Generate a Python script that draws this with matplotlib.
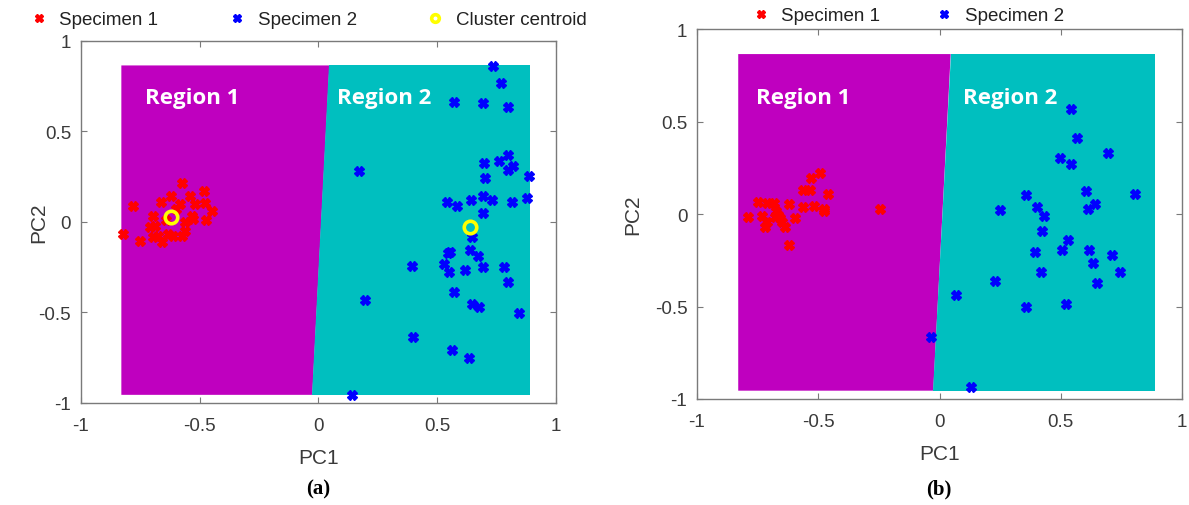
"""
PCA scatter with two classification regions, panels (a) and (b)
"""

import matplotlib
matplotlib.use('Agg')
import matplotlib.pyplot as plt

# ---- data ----
# panel (a)
a_spec1_pc1 = [-0.576, -0.483, -0.622, -0.541, -0.520, -0.663, -0.583, -0.782, -0.477,
               -0.447, -0.696, -0.534, -0.527, -0.474, -0.709, -0.688, -0.822, -0.752,
               -0.696, -0.675, -0.660, -0.632, -0.611, -0.576, -0.562, -0.600, -0.640,
               -0.560]
a_spec1_pc2 = [0.215, 0.173, 0.145, 0.145, 0.100, 0.109, 0.100, 0.090, 0.103,
               0.062, 0.035, 0.035, 0.017, 0.013, -0.030, -0.020, -0.066, -0.103,
               -0.085, -0.076, -0.112, -0.066, -0.076, -0.076, -0.048, 0.070, 0.010,
               0.000]
a_spec2_pc1 = [0.569, 0.694, 0.172, 0.697, 0.703, 0.540, 0.582, 0.642, 0.691, 0.694,
               0.648, 0.547, 0.554, 0.638, 0.673, 0.691, 0.530, 0.548, 0.617, 0.392,
               0.572, 0.196, 0.648, 0.676, 0.397, 0.563, 0.632, 0.142, 0.736, 0.770,
               0.797, 0.799, 0.759, 0.820, 0.799, 0.886, 0.729, 0.816, 0.879, 0.780,
               0.797, 0.843]
a_spec2_pc2 = [0.665, 0.656, 0.283, 0.324, 0.243, 0.112, 0.087, 0.123, 0.145, 0.050,
               -0.081, -0.173, -0.164, -0.153, -0.188, -0.247, -0.232, -0.278, -0.265, -0.241,
               -0.385, -0.431, -0.453, -0.471, -0.637, -0.707, -0.751, -0.954, 0.864, 0.770,
               0.637, 0.372, 0.335, 0.309, 0.289, 0.254, 0.121, 0.110, 0.134, -0.247,
               -0.333, -0.504]
a_centroid_pc1 = [-0.622, 0.638]
a_centroid_pc2 = [0.029, -0.026]

# panel (b)
b_spec1_pc1 = [-0.492, -0.529, -0.565, -0.534, -0.459, -0.747, -0.710, -0.682, -0.620,
               -0.562, -0.517, -0.478, -0.475, -0.247, -0.789, -0.734, -0.675, -0.664,
               -0.658, -0.678, -0.710, -0.719, -0.648, -0.639, -0.595, -0.620]
b_spec1_pc2 = [0.222, 0.197, 0.129, 0.129, 0.111, 0.063, 0.059, 0.059, 0.054,
               0.036, 0.043, 0.027, 0.015, 0.029, -0.016, -0.012, 0.015, -0.004,
               -0.022, -0.018, -0.043, -0.070, -0.043, -0.070, -0.022, -0.165]
b_spec2_pc1 = [0.541, 0.565, 0.693, 0.497, 0.541, 0.602, 0.805, 0.355, 0.251, 0.400,
               0.430, 0.642, 0.612, 0.423, 0.528, 0.393, 0.503, 0.616, 0.712, 0.633,
               0.419, 0.745, 0.230, 0.649, 0.066, 0.355, 0.522, -0.034, 0.128]
b_spec2_pc2 = [0.566, 0.412, 0.328, 0.301, 0.269, 0.125, 0.111, 0.104, 0.021, 0.036,
               -0.011, 0.054, 0.029, -0.090, -0.138, -0.206, -0.192, -0.192, -0.219, -0.263,
               -0.312, -0.312, -0.362, -0.371, -0.435, -0.502, -0.487, -0.667, -0.934]

# decision regions (bounding box of the data, split by a near-vertical boundary)
region_x = [-0.83, 0.89]
region_y = [-0.955, 0.865]
boundary_x = [-0.026, 0.046]   # at region_y[0], region_y[1]

ticks = [-1, -0.5, 0, 0.5, 1]
tick_labels = ['-1', '-0.5', '0', '0.5', '1']

plt.rcParams['font.family'] = ['Liberation Sans', 'DejaVu Sans']

MAGENTA = '#BF00BF'
TEAL = '#00BFBF'
AXCOL = '#7a7a7a'
TXTCOL = '#3a3a3a'


def draw_panel(ax, s1x, s1y, s2x, s2y, cx=None, cy=None, leg_x=0.5, leg_y=1.0,
               ylab_x=-0.1, colsp=2.8):
    # regions
    ax.fill([region_x[0], boundary_x[1], boundary_x[0], region_x[0]],
            [region_y[1], region_y[1], region_y[0], region_y[0]],
            color=MAGENTA, lw=0, zorder=1)
    ax.fill([boundary_x[1], region_x[1], region_x[1], boundary_x[0]],
            [region_y[1], region_y[1], region_y[0], region_y[0]],
            color=TEAL, lw=0, zorder=1)

    ax.plot(s1x, s1y, ls='none', marker='X', ms=6.5, color='#FF0000',
            mec='#FF0000', label='Specimen 1', zorder=3)
    ax.plot(s2x, s2y, ls='none', marker='X', ms=6.5, color='#0000FF',
            mec='#0000FF', label='Specimen 2', zorder=3)
    if cx is not None:
        ax.plot(cx, cy, ls='none', marker='o', ms=9, mfc='none', mec='#FFFF00',
                mew=2.6, label='Cluster centroid', zorder=4)

    ax.set_xlim(-1, 1)
    ax.set_ylim(-1, 1)
    ax.set_xticks(ticks)
    ax.set_xticklabels(tick_labels)
    ax.set_yticks(ticks)
    ax.set_yticklabels(tick_labels)
    ax.tick_params(direction='in', top=True, right=True, length=4, width=0.8,
                   colors=AXCOL, labelcolor=TXTCOL, labelsize=13.5, pad=7)
    ax.tick_params(axis='x', pad=10)
    for sp in ax.spines.values():
        sp.set_color(AXCOL)
        sp.set_linewidth(1.0)
    ax.set_xlabel('PC1', fontsize=15, color=TXTCOL, labelpad=10)
    ax.set_ylabel('PC2', fontsize=15, color=TXTCOL)
    ax.yaxis.set_label_coords(ylab_x, 0.5)

    leg = ax.legend(loc='lower center', bbox_to_anchor=(leg_x, leg_y),
                    ncol=3, frameon=False, fontsize=13.5, handlelength=1.2,
                    handletextpad=0.5, columnspacing=colsp, borderaxespad=0.0)
    for t in leg.get_texts():
        t.set_color('#222222')
    for h in leg.legend_handles:
        h.set_markersize(5.5)


fig = plt.figure(figsize=(11.89, 5.06), dpi=100)
ax1 = fig.add_axes([0.0681, 0.2016, 0.3995, 0.7154])
ax2 = fig.add_axes([0.5862, 0.2095, 0.4080, 0.7310])

draw_panel(ax1, a_spec1_pc1, a_spec1_pc2, a_spec2_pc1, a_spec2_pc2,
           a_centroid_pc1, a_centroid_pc2, leg_x=0.476, leg_y=1.015,
           ylab_x=-0.069, colsp=3.6)
draw_panel(ax2, b_spec1_pc1, b_spec1_pc2, b_spec2_pc1, b_spec2_pc2,
           leg_x=0.432, leg_y=0.993, ylab_x=-0.113, colsp=2.8)

label_font = dict(color='white', fontsize=16, fontweight='bold',
                  family=['Open Sans', 'DejaVu Sans'], va='center', zorder=5)
ax1.text(-0.73, 0.69, 'Region 1', **label_font)
ax1.text(0.08, 0.69, 'Region 2', **label_font)
ax2.text(-0.756, 0.63, 'Region 1', **label_font)
ax2.text(0.095, 0.63, 'Region 2', **label_font)

cap_font = dict(fontsize=15, fontweight='bold', family=['Liberation Serif', 'DejaVu Serif'],
                ha='center', va='center')
fig.text(0.2679, 0.032, '(a)', **cap_font)
fig.text(0.79, 0.032, '(b)', **cap_font)

plt.savefig('out.png', dpi=100)
